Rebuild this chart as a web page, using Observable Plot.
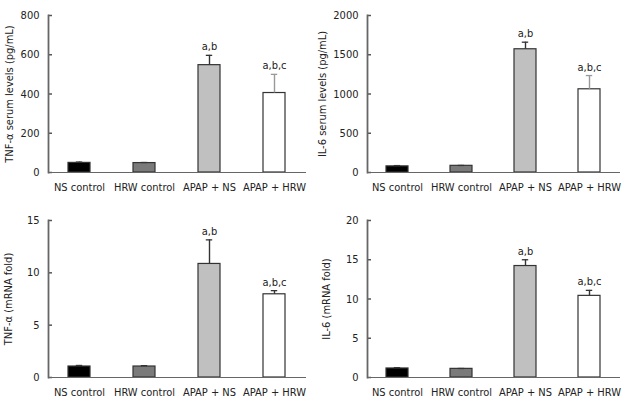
<!DOCTYPE html>
<html>
<head>
<meta charset="utf-8">
<script src="https://cdn.jsdelivr.net/npm/d3@7"></script>
<script src="https://cdn.jsdelivr.net/npm/@observablehq/plot@0.6"></script>
<style>
  html, body { margin: 0; padding: 0; background: #fff; }
  #wrap { position: relative; width: 628px; height: 405px; }
  .panel { position: absolute; }
</style>
</head>
<body>
<div id="wrap">
  <div class="panel" id="p1" style="left:0;top:0"></div>
  <div class="panel" id="p2" style="left:314px;top:0"></div>
  <div class="panel" id="p3" style="left:0;top:200px"></div>
  <div class="panel" id="p4" style="left:314px;top:200px"></div>
</div>
<script>
// Categories and annotations
const groups = ["NS control", "HRW control", "APAP + NS", "APAP + HRW"];
const significance = ["", "", "a,b", "a,b,c"];
const fills = ["#000000", "#7a7a7a", "#c0c0c0", "#ffffff"];

// Series values (mean) and error (SD)
const tnfSerum = [49, 48, 547, 405];
const tnfSerumErr = [4, 3, 50, 95];
const il6Serum = [78, 85, 1570, 1060];
const il6SerumErr = [10, 5, 90, 175];
const tnfMrna = [1.05, 1.05, 10.85, 7.95];
const tnfMrnaErr = [0.1, 0.08, 2.3, 0.35];
const il6Mrna = [1.15, 1.1, 14.2, 10.4];
const il6MrnaErr = [0.1, 0.05, 0.8, 0.7];

// Axis ticks and labels
const tnfSerumTicks = [0, 200, 400, 600, 800];
const il6SerumTicks = [0, 500, 1000, 1500, 2000];
const tnfMrnaTicks = [0, 5, 10, 15];
const il6MrnaTicks = [0, 5, 10, 15, 20];
const labels = ["TNF-α serum levels (pg/mL)", "IL-6 serum levels (pg/mL)", "TNF-α (mRNA fold)", "IL-6 (mRNA fold)"];

const FONT = "'DejaVu Sans Condensed', 'Noto Sans', sans-serif";

function panel(el, values, errs, ticks, label, opts) {
  const data = groups.map((g, i) => ({g, v: values[i], e: errs[i], sig: significance[i], fill: fills[i]}));
  const errColor = d => opts.lightErr && d.g === "APAP + HRW" ? "#999" : "#333";
  const chart = Plot.plot({
    width: 314,
    height: opts.height,
    marginLeft: opts.ml,
    marginRight: opts.mr,
    marginTop: opts.mt,
    marginBottom: opts.mb,
    style: {fontFamily: FONT, fontSize: "11px", color: "#222", background: "#fff"},
    x: {domain: groups, paddingInner: 0.66, paddingOuter: 0.28, label: null},
    y: {domain: [0, ticks[ticks.length - 1]], label: null},
    marks: [
      Plot.barY(data, {x: "g", y: "v", fill: d => d.fill, stroke: "#333", strokeWidth: 1.2}),
      Plot.ruleX(data, {x: "g", y1: "v", y2: d => d.v + d.e, stroke: errColor, strokeWidth: 1.4}),
      Plot.tickY(data, {x: "g", y: d => d.v + d.e, stroke: errColor, strokeWidth: 1.3, insetLeft: 7.8, insetRight: 7.8}),
      Plot.text(data.filter(d => d.sig), {x: "g", y: d => d.v + d.e, text: "sig", dy: -5, lineAnchor: "bottom", fill: "#222", fontSize: 11}),
      Plot.axisX({tickSize: 0, tickPadding: 11, label: null}),
      Plot.axisY({ticks: ticks, tickFormat: d => String(d), tickSize: -4, tickPadding: 13, stroke: "#555", strokeWidth: 1.5, label: label, labelAnchor: "center", labelArrow: "none", labelOffset: opts.lo}),
      Plot.frame({anchor: "left", stroke: "#666", strokeWidth: 1.8}),
      Plot.frame({anchor: "bottom", stroke: "#666", strokeWidth: 1})
    ]
  });
  document.getElementById(el).appendChild(chart);
}

panel("p1", tnfSerum, tnfSerumErr, tnfSerumTicks, labels[0], {height: 200, ml: 48, mr: 9, mt: 15, mb: 28, lo: 43, lightErr: true});
panel("p2", il6Serum, il6SerumErr, il6SerumTicks, labels[1], {height: 200, ml: 53, mr: 9, mt: 15, mb: 28, lo: 49, lightErr: true});
panel("p3", tnfMrna, tnfMrnaErr, tnfMrnaTicks, labels[2], {height: 205, ml: 48, mr: 9, mt: 20, mb: 28, lo: 44, lightErr: false});
panel("p4", il6Mrna, il6MrnaErr, il6MrnaTicks, labels[3], {height: 205, ml: 53, mr: 9, mt: 20, mb: 28, lo: 45, lightErr: false});
</script>
</body>
</html>
